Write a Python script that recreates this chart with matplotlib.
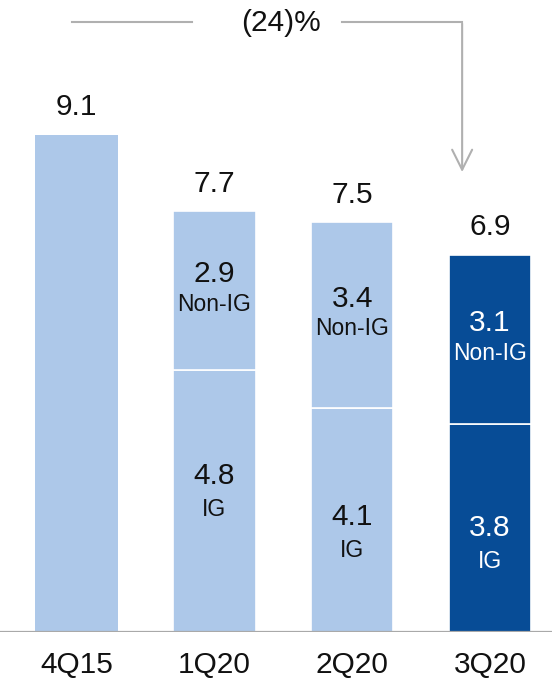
import matplotlib
matplotlib.use("Agg")
import matplotlib.pyplot as plt

plt.rcParams['font.family'] = ['Liberation Sans', 'DejaVu Sans']

quarters = ["4Q15", "1Q20", "2Q20", "3Q20"]
totals = [9.1, 7.7, 7.5, 6.9]
ig = [None, 4.8, 4.1, 3.8]
non_ig = [None, 2.9, 3.4, 3.1]
change_label = "(24)%"

light = "#adc8e9"
dark = "#074c96"
colors = [light, light, light, dark]
txt_colors = ["#111111", "#111111", "#111111", "white"]
# small manual nudges of the IG labels, like in the original slide
ig_shift = [0, 0.45, 0.05, 0]

fig = plt.figure(figsize=(5.52, 6.87), dpi=100)
ax = fig.add_axes([0, 0.08, 1, 0.92])
ax.set_xlim(-0.555, 3.45)
ax.set_ylim(0, 11.57)
ax.axis('off')

w = 0.6
for i, q in enumerate(quarters):
    if ig[i] is None:
        ax.bar(i, totals[i], w, color=colors[i], edgecolor='none')
    else:
        ax.bar(i, ig[i], w, color=colors[i], edgecolor='white', linewidth=1.2)
        ax.bar(i, non_ig[i], w, bottom=ig[i], color=colors[i], edgecolor='white', linewidth=1.2)
        # segment labels
        yc = ig[i] / 2 + ig_shift[i]
        ax.text(i, yc, f"{ig[i]:.1f}", ha='center', va='center', fontsize=21.5, color=txt_colors[i])
        ax.text(i, yc - 0.6, "IG", ha='center', va='center', fontsize=16.5, color=txt_colors[i])
        yc = ig[i] + non_ig[i] / 2
        ax.text(i, yc + 0.3, f"{non_ig[i]:.1f}", ha='center', va='center', fontsize=21.5, color=txt_colors[i])
        ax.text(i, yc - 0.25, "Non-IG", ha='center', va='center', fontsize=16.5, color=txt_colors[i])
    ax.annotate(f"{totals[i]:.1f}", (i, totals[i]), xytext=(0, 20), textcoords='offset points',
                ha='center', va='center', fontsize=21.5, color='#111111')
    ax.text(i, -0.6, q, ha='center', va='center', fontsize=21.5, color='#111111')

# baseline
ax.axhline(0, color='#a9a9a9', linewidth=1.6, xmin=0, xmax=1)

# bracket with change
gray = '#b0b0b0'
ax.plot([-0.033, 0.838], [11.17, 11.17], color=gray, linewidth=1.5)
ax.plot([1.927, 2.798], [11.17, 11.17], color=gray, linewidth=1.5)
ax.annotate("", xy=(2.798, 8.37), xytext=(2.798, 11.19),
            arrowprops=dict(arrowstyle='->,head_length=0.72,head_width=0.36', mutation_scale=20,
                            color=gray, linewidth=1.5))
ax.text(1.485, 11.14, change_label, ha='center', va='center', fontsize=21.5, color='#111111')

fig.savefig("out.png", dpi=100)
